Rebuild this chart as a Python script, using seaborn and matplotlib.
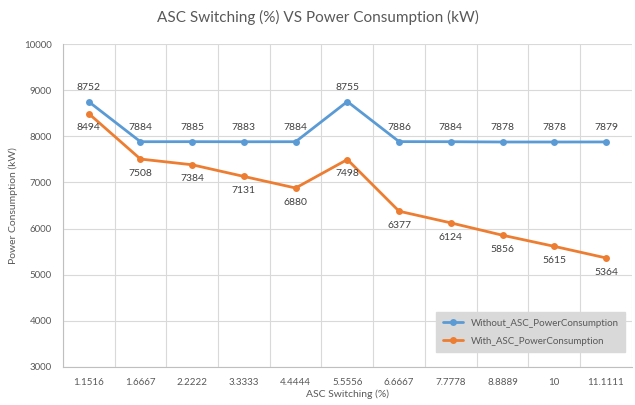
import pandas as pd
import numpy as np
import matplotlib
matplotlib.use("Agg")
import matplotlib.pyplot as plt
import seaborn as sns

switching = ["1.1516", "1.6667", "2.2222", "3.3333", "4.4444", "5.5556",
             "6.6667", "7.7778", "8.8889", "10", "11.1111"]
without_asc = [8752, 7884, 7885, 7883, 7884, 8755, 7886, 7884, 7878, 7878, 7879]
with_asc = [8494, 7508, 7384, 7131, 6880, 7498, 6377, 6124, 5856, 5615, 5364]

blue = "#5B9BD5"
orange = "#ED7D31"
grey = "#595959"

sns.set_theme(style="whitegrid")
plt.rcParams['font.family'] = ['Lato', 'DejaVu Sans']

df = pd.DataFrame({
    "pos": list(range(len(switching))) * 2,
    "value": without_asc + with_asc,
    "series": ["Without_ASC_PowerConsumption"] * len(switching)
              + ["With_ASC_PowerConsumption"] * len(switching),
})

fig = plt.figure(figsize=(6.35, 4.05), dpi=100)
ax = fig.add_axes([0.099, 0.094, 0.896, 0.797])

sns.lineplot(data=df, x="pos", y="value", hue="series",
             palette=[blue, orange], marker="o", markersize=5,
             markeredgewidth=0, linewidth=2, ax=ax)

# data labels: blue above, orange below
for i, v in enumerate(without_asc):
    ax.annotate(str(v), (i, v), xytext=(0, 7), textcoords="offset points",
                ha="center", va="bottom", fontsize=7.5, color="#404040")
for i, v in enumerate(with_asc):
    ax.annotate(str(v), (i, v), xytext=(0, -7), textcoords="offset points",
                ha="center", va="top", fontsize=7.5, color="#404040")

ax.set_xlim(-0.5, len(switching) - 0.5)
ax.set_ylim(3000, 10000)
ax.set_yticks(range(3000, 10001, 1000))
ax.set_xticks(np.arange(len(switching)))
ax.set_xticklabels(switching)
ax.set_xticks(np.arange(-0.5, len(switching), 1), minor=True)
ax.grid(False)
ax.grid(True, which="minor", axis="x", color="#d9d9d9", linewidth=0.8)
ax.grid(True, which="major", axis="y", color="#d9d9d9", linewidth=0.8)
ax.tick_params(axis="both", which="both", length=0, labelsize=7, colors=grey)
ax.tick_params(axis="x", pad=8)
ax.tick_params(axis="y", pad=8)

for s in ["top", "right"]:
    ax.spines[s].set_visible(False)
ax.spines["left"].set_color("#bfbfbf")
ax.spines["bottom"].set_color("#bfbfbf")
ax.spines["left"].set_linewidth(0.8)
ax.spines["bottom"].set_linewidth(0.8)

ax.set_xlabel("ASC Switching (%)", fontsize=7.5, color=grey, labelpad=2)
ax.set_ylabel("Power Consumption (kW)", fontsize=7.5, color=grey, labelpad=4)
fig.suptitle("ASC Switching (%) VS Power Consumption (kW)", x=0.5, y=0.975,
             fontsize=11, color=grey)

leg = ax.legend(loc="lower right", bbox_to_anchor=(0.997, 0.03), fontsize=7,
                frameon=True, fancybox=False, handlelength=2.0,
                borderpad=0.7, labelspacing=0.9)
leg.get_frame().set_facecolor("#d9d9d9")
leg.get_frame().set_edgecolor("#d9d9d9")
leg.get_frame().set_alpha(1)
for t in leg.get_texts():
    t.set_color(grey)

fig.savefig("out.png", dpi=100)
